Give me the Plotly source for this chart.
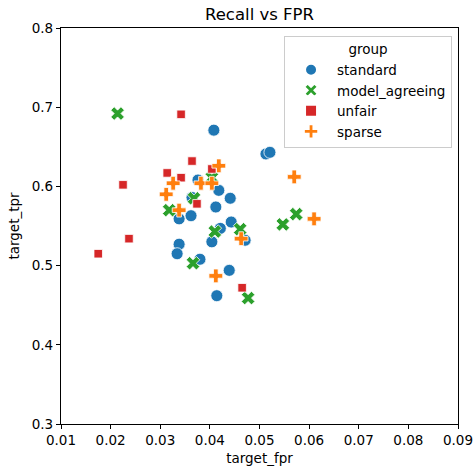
import plotly.graph_objects as go

groups = ["standard", "model_agreeing", "unfair", "sparse"]

standard_fpr = [0.0408, 0.0513, 0.0521, 0.0376, 0.0364, 0.0418, 0.0441, 0.0412, 0.0338, 0.0362,
                0.0443, 0.0421, 0.0338, 0.0334, 0.0404, 0.0380, 0.0439, 0.0414, 0.0471]
standard_tpr = [0.671, 0.641, 0.643, 0.608, 0.586, 0.595, 0.585, 0.574, 0.559, 0.563,
                0.555, 0.547, 0.527, 0.515, 0.530, 0.508, 0.494, 0.462, 0.532]

model_agreeing_fpr = [0.0214, 0.0318, 0.0404, 0.0368, 0.0410, 0.0461, 0.0366, 0.0477, 0.0574, 0.0547]
model_agreeing_tpr = [0.692, 0.570, 0.611, 0.585, 0.543, 0.546, 0.503, 0.459, 0.565, 0.552]

unfair_fpr = [0.0342, 0.0364, 0.0314, 0.0342, 0.0225, 0.0374, 0.0404, 0.0237, 0.0175, 0.0465]
unfair_tpr = [0.691, 0.632, 0.617, 0.611, 0.602, 0.578, 0.622, 0.534, 0.515, 0.472]

sparse_fpr = [0.0418, 0.0382, 0.0404, 0.0570, 0.0610, 0.0463, 0.0326, 0.0312, 0.0338, 0.0412]
sparse_tpr = [0.626, 0.604, 0.604, 0.612, 0.559, 0.534, 0.604, 0.590, 0.570, 0.487]

x_ticks = [0.01, 0.02, 0.03, 0.04, 0.05, 0.06, 0.07, 0.08, 0.09]
y_ticks = [0.3, 0.4, 0.5, 0.6, 0.7, 0.8]

data = {
    "standard": (standard_fpr, standard_tpr),
    "model_agreeing": (model_agreeing_fpr, model_agreeing_tpr),
    "unfair": (unfair_fpr, unfair_tpr),
    "sparse": (sparse_fpr, sparse_tpr),
}
colors = {"standard": "#1f77b4", "model_agreeing": "#2ca02c", "unfair": "#d62728", "sparse": "#ff7f0e"}
symbols = {"standard": "circle", "model_agreeing": "x", "unfair": "square", "sparse": "cross"}
sizes = {"standard": 12, "model_agreeing": 12, "unfair": 8.5, "sparse": 11.5}

fig = go.Figure()
for g in groups:
    xs, ys = data[g]
    fig.add_trace(go.Scatter(
        x=xs, y=ys, mode="markers", name=g,
        marker=dict(color=colors[g], symbol=symbols[g], size=sizes[g],
                    line=dict(color="white", width=0.8)),
    ))

font = "DejaVu Sans"
axis_common = dict(
    showgrid=False, zeroline=False, showline=True, linecolor="black", linewidth=1.2,
    mirror=True, ticks="outside", ticklen=4, tickwidth=1, tickcolor="black",
    tickfont=dict(family=font, size=13.5, color="black"), automargin=False,
)
fig.update_xaxes(range=[0.01, 0.09], tickvals=x_ticks, ticktext=[f"{v:.2f}" for v in x_ticks],
                 title=dict(text="target_fpr", font=dict(family=font, size=13.5, color="black"), standoff=6),
                 **axis_common)
fig.update_yaxes(range=[0.3, 0.8], tickvals=y_ticks, ticktext=[f"{v:.1f}" for v in y_ticks],
                 title=dict(text="target_tpr", font=dict(family=font, size=13.5, color="black"), standoff=8),
                 **axis_common)

fig.update_layout(
    width=474, height=471,
    margin=dict(l=61, r=16, t=28, b=47, autoexpand=False),
    paper_bgcolor="white", plot_bgcolor="white",
    font=dict(family=font, color="black"),
    title=dict(text="Recall vs FPR", x=(61 + 458) / 2 / 474, xanchor="center", y=1 - 14 / 471, yanchor="middle",
               font=dict(family=font, size=16.5, color="black")),
    legend=dict(
        x=0.985, xanchor="right", y=0.98, yanchor="top",
        bgcolor="rgba(255,255,255,0.85)", bordercolor="#cccccc", borderwidth=1,
        font=dict(family=font, size=13.5, color="black"),
        title=dict(text="group", side="top center", font=dict(family=font, size=13.5, color="black")),
        itemsizing="constant", tracegroupgap=0, itemwidth=42,
    ),
    showlegend=True,
)

fig.write_html("out.html")
